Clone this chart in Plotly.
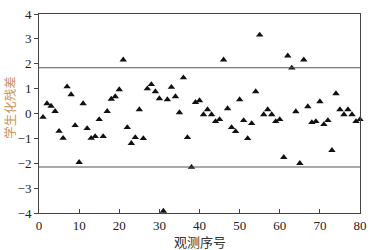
import plotly.graph_objects as go

obs = list(range(1, 81))
resid = [
    -0.15, 0.40, 0.30, 0.09, -0.71, -0.99, 1.08, 0.76, -0.48, -1.96,
    0.40, -0.60, -0.99, -0.92, -0.24, -0.92, 0.09, 0.58, 0.68, 0.96,
    2.16, -0.56, -1.20, -0.96, 0.16, -1.00, 1.00, 1.17, 0.88, 0.60,
    -3.92, 0.56, 1.06, 0.68, 0.04, 1.44, -0.96, -2.16, 0.45, 0.52,
    -0.04, 0.16, -0.04, -0.32, -0.24, 2.16, 0.20, -0.56, -0.72, 0.56,
    -0.28, -1.00, -0.40, 0.88, 3.16, -0.04, 0.16, -0.04, -0.32, -0.24,
    -1.76, 2.32, 1.83, 0.08, -2.00, 2.16, 0.28, -0.36, -0.32, 0.48,
    -0.44, -0.28, -1.48, 0.80, 0.16, -0.04, 0.16, -0.04, -0.32, -0.24,
]
upper_limit = 1.84
lower_limit = -2.15
x_ticks = [0, 10, 20, 30, 40, 50, 60, 70, 80]
y_ticks = [-4, -3, -2, -1, 0, 1, 2, 3, 4]
x_title = "观测序号"
y_title = "学生化残差"

fig = go.Figure()
fig.add_trace(go.Scatter(
    x=obs, y=resid, mode="markers",
    marker=dict(symbol="triangle-up", size=6.5, color="#111111"),
    showlegend=False, cliponaxis=False,
))

for v in (upper_limit, lower_limit):
    fig.add_shape(type="line", xref="paper", x0=0, x1=1, yref="y", y0=v, y1=v,
                  line=dict(color="#555555", width=1.2))

tick_font = dict(family="Liberation Serif, Times New Roman, serif", size=13, color="#222222")
fig.update_xaxes(range=[0, 80], tickvals=x_ticks, ticks="inside", ticklen=4,
                 tickcolor="#444444", showline=True, linecolor="#444444", linewidth=1,
                 mirror=True, showgrid=False, zeroline=False, tickfont=tick_font,
                 automargin=False)
fig.update_yaxes(range=[-4, 4], tickvals=y_ticks, ticks="outside", ticklen=4,
                 tickcolor="#444444", showline=True, linecolor="#444444", linewidth=1,
                 mirror=True, showgrid=False, zeroline=False, tickfont=tick_font,
                 automargin=False)

cjk = "Noto Sans CJK SC"
fig.add_annotation(text=x_title, xref="paper", yref="paper", x=0.5, y=-0.141,
                   xanchor="center", yanchor="middle", showarrow=False,
                   font=dict(family=cjk, size=13, color="#333333"))
fig.add_annotation(text=y_title, xref="paper", yref="paper", x=-0.093, y=0.53,
                   xanchor="center", yanchor="middle", showarrow=False, textangle=-90,
                   font=dict(family=cjk, size=12.5, color="#c9945e"))

fig.update_layout(width=371, height=250, margin=dict(l=39, r=11, t=14, b=37, autoexpand=False),
                  paper_bgcolor="white", plot_bgcolor="white", template="none")
fig.write_html("out.html", config={"displayModeBar": False},
               post_script="document.body.style.margin='0';document.body.style.overflow='hidden';")
